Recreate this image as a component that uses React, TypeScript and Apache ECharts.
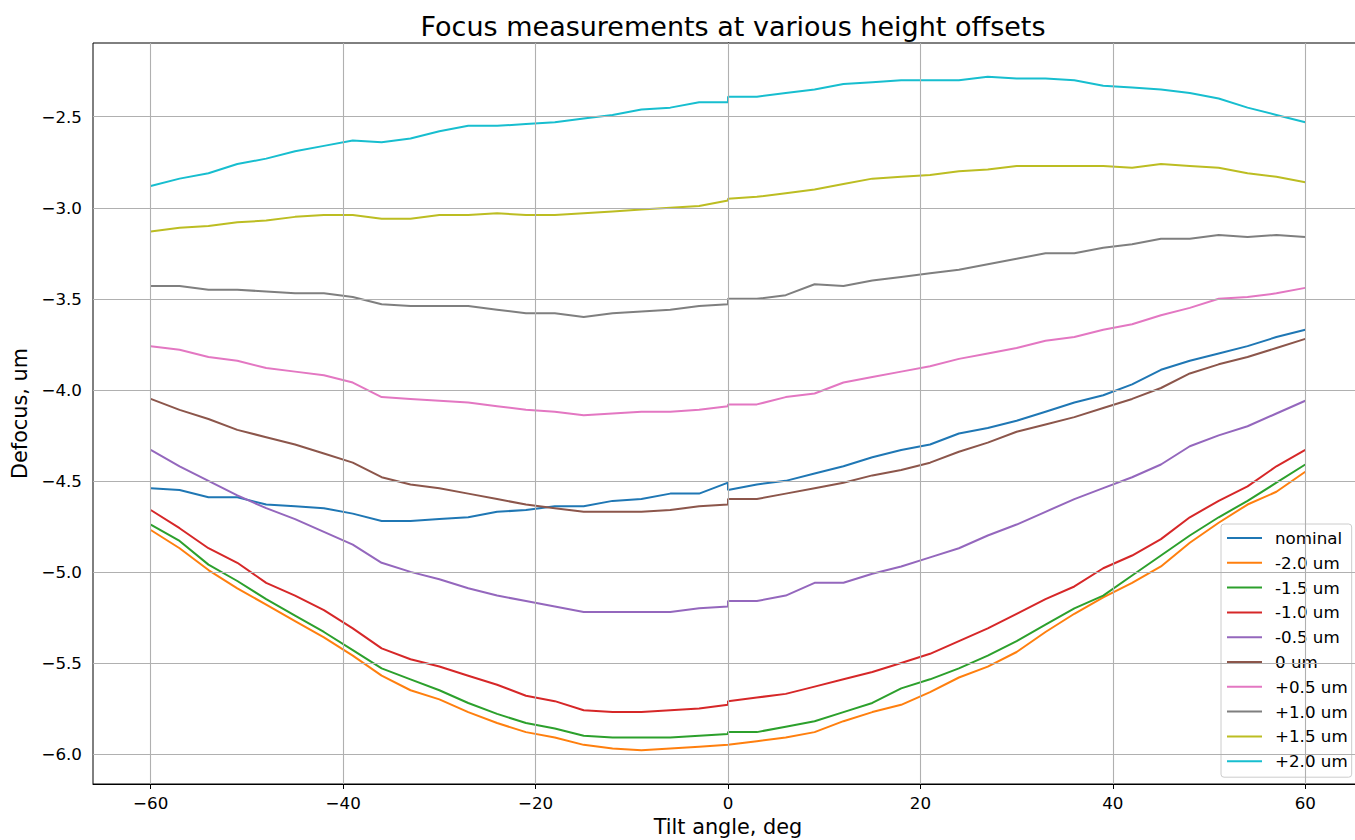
import React, { useEffect, useRef } from "react";
import * as echarts from "echarts";

const xLeft = [-60, -57, -54, -51, -48, -45, -42, -39, -36, -33, -30, -27, -24, -21, -18, -15, -12, -9, -6, -3, 0];
const xRight = [0, 3, 6, 9, 12, 15, 18, 21, 24, 27, 30, 33, 36, 39, 42, 45, 48, 51, 54, 57, 60];

const seriesNames = ["nominal", "-2.0 um", "-1.5 um", "-1.0 um", "-0.5 um", "0 um", "+0.5 um", "+1.0 um", "+1.5 um", "+2.0 um"];
const colors = ["#1f77b4", "#ff7f0e", "#2ca02c", "#d62728", "#9467bd", "#8c564b", "#e377c2", "#7f7f7f", "#bcbd22", "#17becf"];

const nominalL = [-4.54, -4.55, -4.59, -4.59, -4.63, -4.64, -4.65, -4.68, -4.72, -4.72, -4.71, -4.70, -4.67, -4.66, -4.64, -4.64, -4.61, -4.60, -4.57, -4.57, -4.51];
const nominalR = [-4.55, -4.52, -4.50, -4.46, -4.42, -4.37, -4.33, -4.30, -4.24, -4.21, -4.17, -4.12, -4.07, -4.03, -3.97, -3.89, -3.84, -3.80, -3.76, -3.71, -3.67];
const m20L = [-4.77, -4.87, -4.99, -5.09, -5.18, -5.27, -5.36, -5.46, -5.57, -5.65, -5.70, -5.77, -5.83, -5.88, -5.91, -5.95, -5.97, -5.98, -5.97, -5.96, -5.95];
const m20R = [-5.95, -5.93, -5.91, -5.88, -5.82, -5.77, -5.73, -5.66, -5.58, -5.52, -5.44, -5.33, -5.23, -5.14, -5.06, -4.97, -4.84, -4.73, -4.63, -4.56, -4.45];
const m15L = [-4.74, -4.83, -4.96, -5.05, -5.15, -5.24, -5.33, -5.43, -5.53, -5.59, -5.65, -5.72, -5.78, -5.83, -5.86, -5.90, -5.91, -5.91, -5.91, -5.90, -5.89];
const m15R = [-5.88, -5.88, -5.85, -5.82, -5.77, -5.72, -5.64, -5.59, -5.53, -5.46, -5.38, -5.29, -5.20, -5.13, -5.02, -4.91, -4.80, -4.70, -4.61, -4.51, -4.41];
const m10L = [-4.66, -4.76, -4.87, -4.95, -5.06, -5.13, -5.21, -5.31, -5.42, -5.48, -5.52, -5.57, -5.62, -5.68, -5.71, -5.76, -5.77, -5.77, -5.76, -5.75, -5.73];
const m10R = [-5.71, -5.69, -5.67, -5.63, -5.59, -5.55, -5.50, -5.45, -5.38, -5.31, -5.23, -5.15, -5.08, -4.98, -4.91, -4.82, -4.70, -4.61, -4.53, -4.42, -4.33];
const m05L = [-4.33, -4.42, -4.50, -4.58, -4.65, -4.71, -4.78, -4.85, -4.95, -5.00, -5.04, -5.09, -5.13, -5.16, -5.19, -5.22, -5.22, -5.22, -5.22, -5.20, -5.19];
const m05R = [-5.16, -5.16, -5.13, -5.06, -5.06, -5.01, -4.97, -4.92, -4.87, -4.80, -4.74, -4.67, -4.60, -4.54, -4.48, -4.41, -4.31, -4.25, -4.20, -4.13, -4.06];
const zeroL = [-4.05, -4.11, -4.16, -4.22, -4.26, -4.30, -4.35, -4.40, -4.48, -4.52, -4.54, -4.57, -4.60, -4.63, -4.65, -4.67, -4.67, -4.67, -4.66, -4.64, -4.63];
const zeroR = [-4.60, -4.60, -4.57, -4.54, -4.51, -4.47, -4.44, -4.40, -4.34, -4.29, -4.23, -4.19, -4.15, -4.10, -4.05, -3.99, -3.91, -3.86, -3.82, -3.77, -3.72];
const p05L = [-3.76, -3.78, -3.82, -3.84, -3.88, -3.90, -3.92, -3.96, -4.04, -4.05, -4.06, -4.07, -4.09, -4.11, -4.12, -4.14, -4.13, -4.12, -4.12, -4.11, -4.09];
const p05R = [-4.08, -4.08, -4.04, -4.02, -3.96, -3.93, -3.90, -3.87, -3.83, -3.80, -3.77, -3.73, -3.71, -3.67, -3.64, -3.59, -3.55, -3.50, -3.49, -3.47, -3.44];
const p10L = [-3.43, -3.43, -3.45, -3.45, -3.46, -3.47, -3.47, -3.49, -3.53, -3.54, -3.54, -3.54, -3.56, -3.58, -3.58, -3.60, -3.58, -3.57, -3.56, -3.54, -3.53];
const p10R = [-3.50, -3.50, -3.48, -3.42, -3.43, -3.40, -3.38, -3.36, -3.34, -3.31, -3.28, -3.25, -3.25, -3.22, -3.20, -3.17, -3.17, -3.15, -3.16, -3.15, -3.16];
const p15L = [-3.13, -3.11, -3.10, -3.08, -3.07, -3.05, -3.04, -3.04, -3.06, -3.06, -3.04, -3.04, -3.03, -3.04, -3.04, -3.03, -3.02, -3.01, -3.00, -2.99, -2.96];
const p15R = [-2.95, -2.94, -2.92, -2.90, -2.87, -2.84, -2.83, -2.82, -2.80, -2.79, -2.77, -2.77, -2.77, -2.77, -2.78, -2.76, -2.77, -2.78, -2.81, -2.83, -2.86];
const p20L = [-2.88, -2.84, -2.81, -2.76, -2.73, -2.69, -2.66, -2.63, -2.64, -2.62, -2.58, -2.55, -2.55, -2.54, -2.53, -2.51, -2.49, -2.46, -2.45, -2.42, -2.42];
const p20R = [-2.39, -2.39, -2.37, -2.35, -2.32, -2.31, -2.30, -2.30, -2.30, -2.28, -2.29, -2.29, -2.30, -2.33, -2.34, -2.35, -2.37, -2.40, -2.45, -2.49, -2.53];

const leftValues = [nominalL, m20L, m15L, m10L, m05L, zeroL, p05L, p10L, p15L, p20L];
const rightValues = [nominalR, m20R, m15R, m10R, m05R, zeroR, p05R, p10R, p15R, p20R];

const xTicks = [-60, -40, -20, 0, 20, 40, 60];
const yTicks = [-6.0, -5.5, -5.0, -4.5, -4.0, -3.5, -3.0, -2.5];

const FONT = "DejaVu Sans";
const minus = (s: string) => s.replace("-", "\u2212");

export default function App() {
  const ref = useRef<HTMLDivElement>(null);
  useEffect(() => {
    if (!ref.current) return;
    const chart = echarts.init(ref.current, undefined, { renderer: "svg" });
    const dataSeries = seriesNames.map((name, k) => ({
      name,
      type: "line",
      z: 3,
      symbol: "none",
      showSymbol: false,
      color: colors[k],
      lineStyle: { color: colors[k], width: 2 },
      emphasis: { disabled: true },
      data: [
        ...xLeft.map((x, i) => [x, leftValues[k][i]]),
        ...xRight.map((x, i) => [x, rightValues[k][i]]),
      ],
    }));
    const gridSeries = {
      name: "_grid",
      type: "line",
      z: 1,
      data: [],
      symbol: "none",
      markLine: {
        silent: true,
        symbol: ["none", "none"],
        label: { show: false },
        emphasis: { disabled: true },
        lineStyle: { color: "#b0b0b0", width: 1.1, type: "solid" },
        data: [
          ...xTicks.map((v) => ({ xAxis: v })),
          ...yTicks.map((v) => ({ yAxis: v })),
        ],
      },
    };
    chart.setOption({
      animation: false,
      backgroundColor: "#ffffff",
      title: {
        text: "Focus measurements at various height offsets",
        left: 728,
        top: 8,
        textAlign: "center",
        textStyle: { fontFamily: FONT, fontSize: 27, fontWeight: "normal", color: "#000" },
      },
      legend: {
        data: seriesNames,
        orient: "vertical",
        left: 1221,
        top: 524,
        padding: [4, 4, 6, 6],
        icon: "rect",
        itemWidth: 35,
        itemHeight: 2,
        itemGap: 4.8,
        backgroundColor: "rgba(255,255,255,0.8)",
        borderColor: "#cccccc",
        borderWidth: 1,
        borderRadius: 3,
        textStyle: { fontFamily: FONT, fontSize: 16.7, color: "#000", lineHeight: 20, padding: [0, 0, 0, 8] },
      },
      grid: {
        left: 93,
        top: 43,
        width: 1270,
        height: 741,
        containLabel: false,
        outerBoundsMode: "none",
        show: true,
        borderColor: "#000",
        borderWidth: 1,
        backgroundColor: "transparent",
      },
      xAxis: {
        type: "value",
        min: -66,
        max: 66,
        name: "Tilt angle, deg",
        nameLocation: "middle",
        nameGap: 32,
        nameTextStyle: { fontFamily: FONT, fontSize: 20.8, color: "#000" },
        axisLine: { show: true, lineStyle: { color: "#000", width: 1 } },
        axisTick: { show: true, length: 5, customValues: xTicks, lineStyle: { color: "#000" } },
        axisLabel: {
          customValues: xTicks,
          margin: 10,
          fontFamily: FONT,
          fontSize: 16.7,
          color: "#000",
          formatter: (v: number) => minus(String(v)),
        },
        splitLine: { show: false },
      },
      yAxis: {
        type: "value",
        min: -6.165,
        max: -2.095,
        name: "Defocus, um",
        nameLocation: "middle",
        nameGap: 61,
        nameTextStyle: { fontFamily: FONT, fontSize: 20.8, color: "#000" },
        axisLine: { show: true, lineStyle: { color: "#000", width: 1 } },
        axisTick: { show: true, length: 5, customValues: yTicks, lineStyle: { color: "#000" } },
        axisLabel: {
          customValues: yTicks,
          margin: 11,
          fontFamily: FONT,
          fontSize: 16.7,
          color: "#000",
          formatter: (v: number) => minus(v.toFixed(1)),
        },
        splitLine: { show: false },
      },
      series: [gridSeries, ...dataSeries],
    });
    return () => chart.dispose();
  }, []);
  return (
    <div style={{ position: "fixed", left: 0, top: 0, width: 1355, height: 840, overflow: "hidden", background: "#fff" }}>
      <div ref={ref} style={{ width: 1380, height: 840 }} />
    </div>
  );
}
